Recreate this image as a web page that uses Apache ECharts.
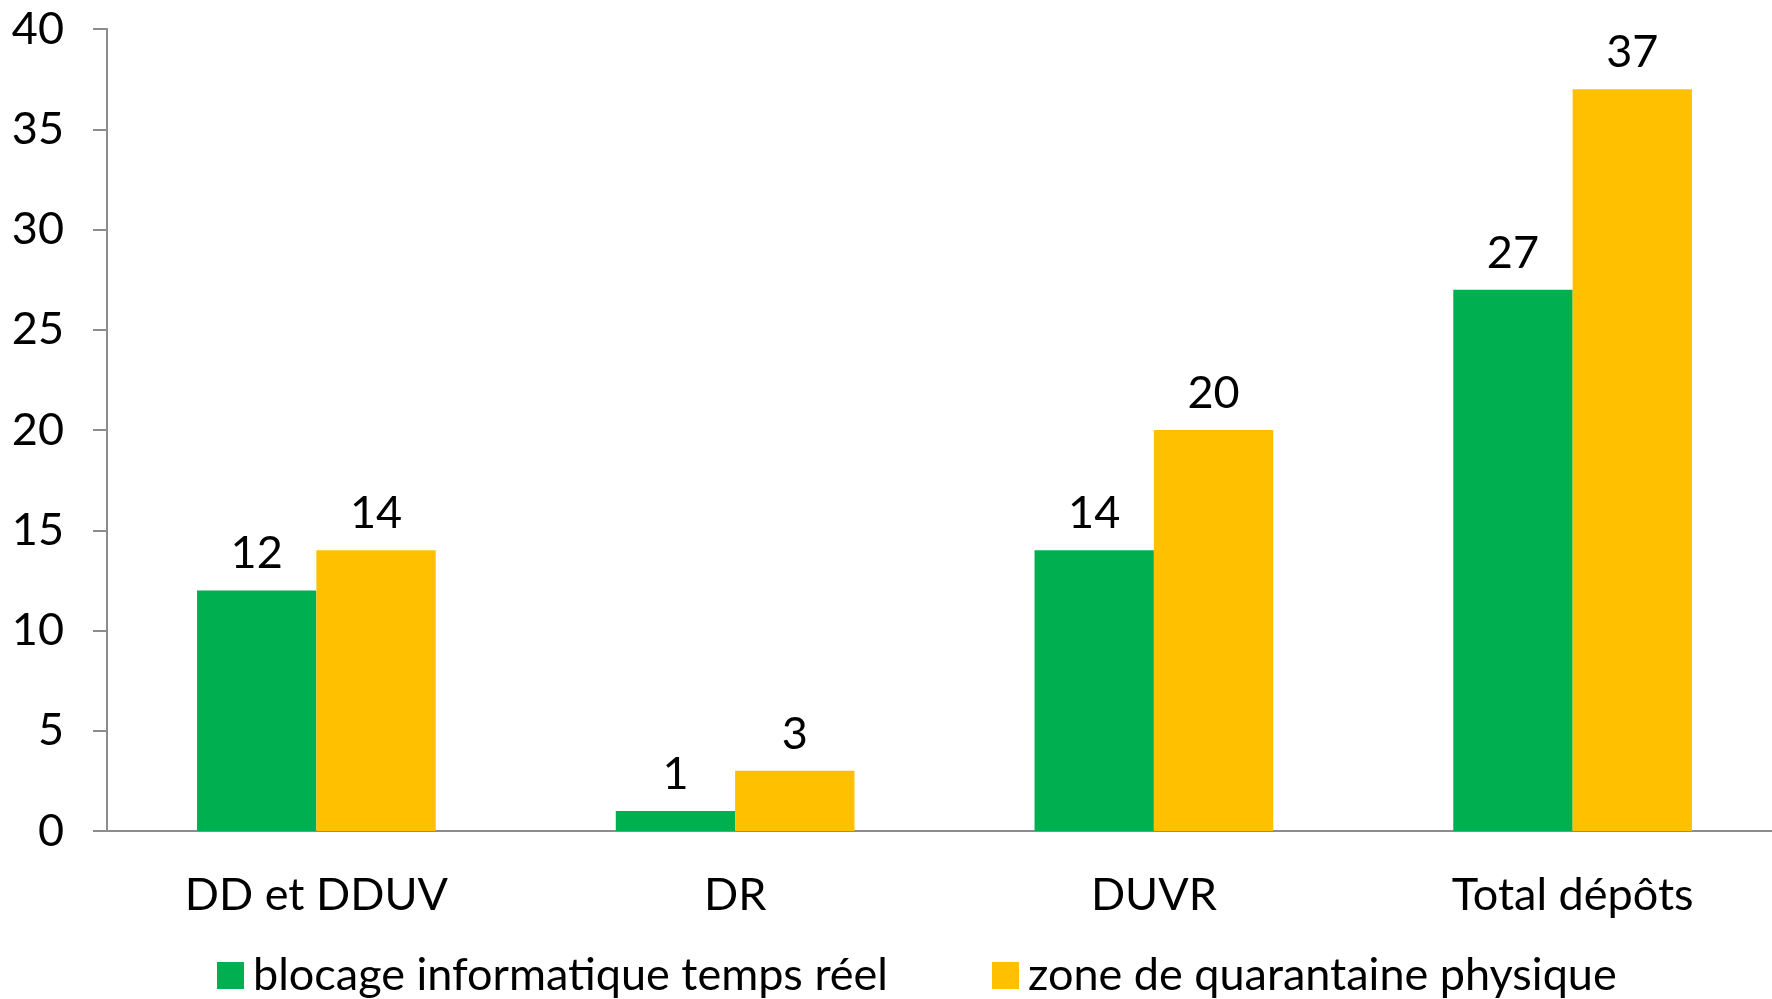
<!DOCTYPE html>
<html><head><meta charset="utf-8">
<script src="https://cdn.jsdelivr.net/npm/echarts@6/dist/echarts.min.js"></script>
<style>html,body{margin:0;padding:0;background:#fff}#c{width:1772px;height:999px}</style>
</head><body><div id="c"></div>
<script>
const categories = ['DD et DDUV', 'DR', 'DUVR', 'Total dépôts'];
const seriesNames = ['blocage informatique temps réel', 'zone de quarantaine physique'];
const blocage = [12, 1, 14, 27];
const quarantaine = [14, 3, 20, 37];
const colors = ['#00B050', '#FFC000'];
const FONT = 'Lato';
const FS = 45;
const chart = echarts.init(document.getElementById('c'));
const axisColor = '#8c8c8c';
chart.setOption({
  animation: false,
  textStyle: {fontFamily: FONT},
  grid: {left: 107, top: 29, bottom: 168, width: 1675, containLabel: false, outerBoundsMode: 'none'},
  legend: {
    left: 212, top: 948,
    itemWidth: 27, itemHeight: 27, itemGap: 104,
    icon: 'rect',
    textStyle: {fontFamily: FONT, fontSize: FS, color: '#000', padding: [0,0,0,4]},
    data: seriesNames
  },
  xAxis: {
    type: 'category', data: categories,
    axisLine: {lineStyle: {color: axisColor, width: 2}},
    axisTick: {length: 15, lineStyle: {color: axisColor, width: 2}},
    axisLabel: {fontFamily: FONT, fontSize: FS, color: '#000', margin: 42}
  },
  yAxis: {
    type: 'value', min: 0, max: 40, interval: 5,
    splitLine: {show: false},
    axisLine: {show: true, lineStyle: {color: axisColor, width: 2}},
    axisTick: {show: true, length: 14, lineStyle: {color: axisColor, width: 2}},
    axisLabel: {fontFamily: FONT, fontSize: FS, color: '#000', margin: 43}
  },
  series: [
    {name: seriesNames[0], type: 'bar', data: blocage, barGap: '0%', barCategoryGap: '43%',
     itemStyle: {color: colors[0]},
     label: {show: true, position: 'top', distance: 14, fontFamily: FONT, fontSize: FS, color: '#000'}},
    {name: seriesNames[1], type: 'bar', data: quarantaine, barGap: '0%', barCategoryGap: '43%',
     itemStyle: {color: colors[1]},
     label: {show: true, position: 'top', distance: 14, fontFamily: FONT, fontSize: FS, color: '#000'}}
  ]
});
</script></body></html>
